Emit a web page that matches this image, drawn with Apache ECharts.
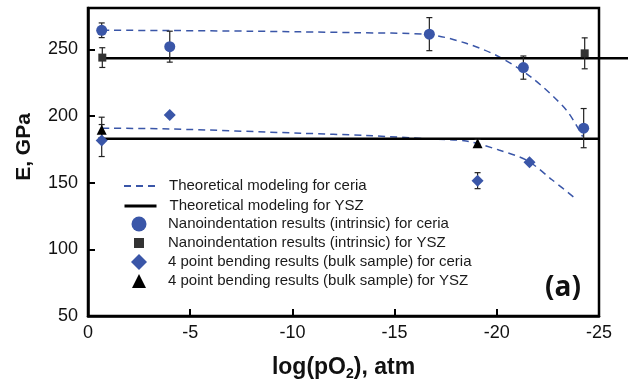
<!DOCTYPE html>
<html>
<head>
<meta charset="utf-8">
<script src="https://cdn.jsdelivr.net/npm/echarts@6/dist/echarts.min.js"></script>
<style>
html, body { margin: 0; padding: 0; background: #fff; }
#chart1 { width: 628px; height: 381px; }
</style>
</head>
<body>
<div id="chart1"></div>
<script>
// values (x = log(pO2), y = E in GPa)
const ceriaNanoX = [-0.67, -4.0, -16.7, -21.3, -24.25];
const ceriaNanoE = [264.3, 252, 261.4, 236.3, 190.9];
const ceriaNanoErr = [5.5, 11.6, 12.4, 8.7, 14.7];

const yszNanoX = [-0.7, -24.3];
const yszNanoE = [243.8, 247];
const yszNanoErr = [7.4, 11.6];

const ceriaBendX = [-0.67, -4.0, -19.06, -21.6];
const ceriaBendE = [181.6, 200.7, 151.5, 165.3];
const ceriaBendErr = [12, 0, 6, 0];

const yszBendX = [-0.67, -19.06];
const yszBendE = [189.6, 179.5];
const yszBendErr = [9.5, 3];

// theoretical model for ceria, two branches
const ceriaModelHiX = [-0.7, -4, -8, -10.4, -13, -16.7, -18.5, -20.1, -21.7, -23.4, -24.2];
const ceriaModelHiE = [264.3, 264.1, 263.6, 263.1, 262.5, 261, 254.5, 244.5, 228.9, 204.5, 184.6];
const ceriaModelLoX = [-0.7, -4, -10.4, -13.6, -16.9, -18.5, -20.1, -21.5, -22.7, -23.9];
const ceriaModelLoE = [190.9, 190.3, 187.1, 185.4, 182.7, 181.2, 174.5, 166.5, 152.2, 137.5];

// theoretical model for YSZ (flat); the upper one runs past the frame in the figure
const yszModelHiX = [-0.6, -26.4];
const yszModelHiE = [243.4, 243.4];
const yszModelLoX = [-0.5, -25];
const yszModelLoE = [183, 183];

const names = [
    'Theoretical modeling for ceria',
    'Theoretical modeling for YSZ',
    'Nanoindentation results (intrinsic) for ceria',
    'Nanoindentation results (intrinsic) for YSZ',
    '4 point bending results (bulk sample) for ceria',
    '4 point bending results (bulk sample) for YSZ'
];

const blue = '#3a56a8';
const font = 'Liberation Sans';

const zip = (xs, ys) => xs.map((x, i) => [x, ys[i]]);
const errData = (xs, ys, es) => xs.map((x, i) => [x, ys[i] - es[i], ys[i] + es[i], es[i]]).filter(d => d[3] > 0);

function renderErr(params, api) {
    const lo = api.coord([api.value(0), api.value(1)]);
    const hi = api.coord([api.value(0), api.value(2)]);
    const w = 3;
    const style = { stroke: '#222', lineWidth: 1.2 };
    return {
        type: 'group',
        children: [
            { type: 'line', shape: { x1: lo[0], y1: lo[1], x2: hi[0], y2: hi[1] }, style: style },
            { type: 'line', shape: { x1: lo[0] - w, y1: lo[1], x2: lo[0] + w, y2: lo[1] }, style: style },
            { type: 'line', shape: { x1: hi[0] - w, y1: hi[1], x2: hi[0] + w, y2: hi[1] }, style: style }
        ]
    };
}

const allErr = []
    .concat(errData(ceriaNanoX, ceriaNanoE, ceriaNanoErr))
    .concat(errData(yszNanoX, yszNanoE, yszNanoErr))
    .concat(errData(ceriaBendX, ceriaBendE, ceriaBendErr))
    .concat(errData(yszBendX, yszBendE, yszBendErr));

// one legend per row so each icon can have its own size
const legendRows = [
    { name: names[0], c: 185, h: 14, line: 2 },
    { name: names[1], c: 205, h: 14, line: 3 },
    { name: names[2], c: 223, h: 15 },
    { name: names[3], c: 242, h: 10 },
    { name: names[4], c: 261, h: 16 },
    { name: names[5], c: 280, h: 14 }
];
const iconMid = 139;
const textLeft = 168;

function legendFor(r) {
    const w = r.line ? 32 : r.h;
    const left = iconMid - w / 2;
    const item = r.line
        ? { name: r.name, itemStyle: { opacity: 0, color: 'rgba(0,0,0,0)', borderWidth: 0 }, lineStyle: { width: r.line } }
        : r.name;
    return {
        data: [item],
        left: left,
        top: r.c - Math.max(r.h, 15) / 2 + 1,
        padding: 0,
        itemWidth: w,
        itemHeight: r.h,
        selectedMode: false,
        textStyle: {
            fontSize: 15, color: '#1a1a1a', fontFamily: font,
            padding: [0, 0, 0, textLeft - (left + w + 5)]
        }
    };
}

const chart = echarts.init(document.getElementById('chart1'));
const option = {
    animation: false,
    textStyle: { fontFamily: font },
    grid: [
        {
            left: 88, top: 8, width: 511, height: 308,
            outerBoundsMode: 'none', containLabel: false,
            show: true, borderColor: '#000', borderWidth: 2.5
        },
        // same scale, wider box: lets the upper YSZ line run out to the page edge
        { left: 88, top: 8, width: 540, height: 308, outerBoundsMode: 'none', containLabel: false, show: false }
    ],
    legend: legendRows.map(legendFor),
    xAxis: [
        {
            type: 'value',
            inverse: true,
            min: -25, max: 0, interval: 5,
            name: '{b|log(pO}{s|2}{b|), atm}',
            nameLocation: 'middle',
            nameGap: 39,
            nameTextStyle: {
                rich: {
                    b: { fontSize: 23, fontWeight: 'bold', fontFamily: font, color: '#111' },
                    s: { fontSize: 14, fontWeight: 'bold', fontFamily: font, color: '#111', padding: [12, 0, 0, 0] }
                }
            },
            axisLine: { lineStyle: { color: '#000', width: 2.5 } },
            axisTick: { inside: true, length: 7, lineStyle: { color: '#000', width: 2 } },
            axisLabel: { fontSize: 18, color: '#111', margin: 8 },
            splitLine: { show: false }
        },
        { gridIndex: 1, type: 'value', inverse: true, min: -26.4, max: 0, show: false }
    ],
    yAxis: [
        {
            type: 'value',
            min: 50, max: 281, interval: 50,
            name: 'E, GPa',
            nameLocation: 'middle',
            nameRotate: 90,
            nameGap: 53,
            nameTextStyle: { fontSize: 21, fontWeight: 'bold', color: '#111', padding: [0, 0, 0, 30] },
            axisLine: { lineStyle: { color: '#000', width: 2.5 } },
            axisTick: { inside: true, length: 7, lineStyle: { color: '#000', width: 2 } },
            axisLabel: { fontSize: 18, color: '#111', margin: 10, showMaxLabel: false },
            splitLine: { show: false }
        },
        { gridIndex: 1, type: 'value', min: 50, max: 281, show: false }
    ],
    graphic: [{
        type: 'text',
        left: 545, top: 274,
        style: { text: '(a)', font: 'bold 28px "Open Sans"', fill: '#111' }
    }],
    series: [
        {
            name: names[0], type: 'line', data: zip(ceriaModelHiX, ceriaModelHiE),
            smooth: 0.3, symbol: 'none', z: 2,
            lineStyle: { color: blue, width: 1.5, type: [7, 5] }, itemStyle: { color: blue }
        },
        {
            name: names[0], type: 'line', data: zip(ceriaModelLoX, ceriaModelLoE),
            smooth: 0.3, symbol: 'none', z: 2,
            lineStyle: { color: blue, width: 1.5, type: [7, 5] }, itemStyle: { color: blue }
        },
        {
            name: names[1], type: 'line', data: zip(yszModelHiX, yszModelHiE),
            xAxisIndex: 1, yAxisIndex: 1,
            symbol: 'none', clip: false, z: 2,
            lineStyle: { color: '#000', width: 2.5 }, itemStyle: { color: '#000' }
        },
        {
            name: names[1], type: 'line', data: zip(yszModelLoX, yszModelLoE),
            symbol: 'none', z: 2,
            lineStyle: { color: '#000', width: 2.5 }, itemStyle: { color: '#000' }
        },
        {
            type: 'custom', renderItem: renderErr, data: allErr,
            encode: { x: 0, y: [1, 2] }, z: 3, silent: true
        },
        {
            name: names[2], type: 'scatter', data: zip(ceriaNanoX, ceriaNanoE),
            symbol: 'circle', symbolSize: 11, z: 5, itemStyle: { color: blue, opacity: 1 }
        },
        {
            name: names[3], type: 'scatter', data: zip(yszNanoX, yszNanoE),
            symbol: 'rect', symbolSize: 8, z: 5, itemStyle: { color: '#333', opacity: 1 }
        },
        {
            name: names[4], type: 'scatter', data: zip(ceriaBendX, ceriaBendE),
            symbol: 'diamond', symbolSize: 12, z: 5, itemStyle: { color: blue, opacity: 1 }
        },
        {
            name: names[5], type: 'scatter', data: zip(yszBendX, yszBendE),
            symbol: 'triangle', symbolSize: 10, z: 5, itemStyle: { color: '#000', opacity: 1 }
        }
    ]
};

chart.setOption(option);
window.addEventListener('resize', function () { chart.resize(); });
</script>
</body>
</html>
